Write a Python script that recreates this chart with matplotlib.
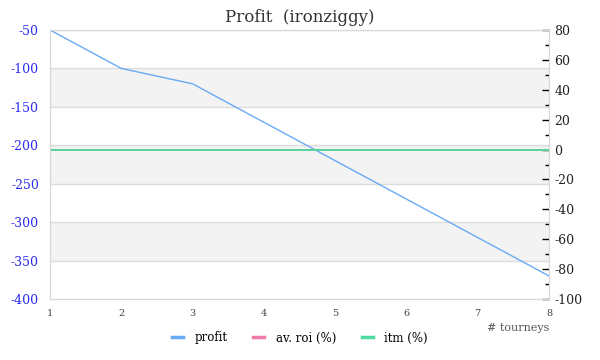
import matplotlib.pyplot as plt
from matplotlib.ticker import MultipleLocator

tourneys = [1, 2, 3, 4, 5, 6, 7, 8]
profit = [-50, -100, -120, -170, -220, -270, -320, -370]
av_roi = [0, 0, 0, 0, 0, 0, 0, 0]
itm = [0, 0, 0, 0, 0, 0, 0, 0]

plt.rcParams['font.family'] = ['DejaVu Serif']
plt.rcParams['axes.unicode_minus'] = False

fig = plt.figure(figsize=(6, 3.6), dpi=100)
ax = fig.add_axes([50 / 600, 1 - 299 / 360, 499 / 600, 269 / 360])
ax2 = ax.twinx()

# alternating bands + grid on the left axis
ax.set_ylim(-400, -50)
ax.set_xlim(1, 8)
for lo in [-150, -250, -350]:
    ax.axhspan(lo, lo + 50, color='#f3f3f3', zorder=0, lw=0)
for y in range(-350, -49, 50):
    ax.axhline(y, color='#dddddd', lw=1, zorder=1)

ax.plot(tourneys, profit, color='#6aaaf5', lw=1, zorder=3, label='profit')

ax2.set_ylim(-100, 80)
ax2.plot(tourneys, av_roi, color='#f07aa8', lw=1.3, label='av. roi (%)')
ax2.plot(tourneys, itm, color='#4cdb9a', lw=1.3, label='itm (%)')

for a in (ax, ax2):
    for s in a.spines.values():
        s.set_color('#d8d8d8')

ax.yaxis.set_major_locator(MultipleLocator(50))
ax.tick_params(axis='y', length=0, labelcolor='#2a2af0', labelsize=9, pad=8)
ax.tick_params(axis='x', length=0, labelsize=7, labelcolor='#444444', pad=7)

ax2.yaxis.set_major_locator(MultipleLocator(20))
ax2.yaxis.set_minor_locator(MultipleLocator(10))
ax2.tick_params(axis='y', which='major', direction='in', length=5, width=1,
                labelsize=9, labelcolor='#222222', pad=4)
ax2.tick_params(axis='y', which='minor', direction='in', length=3, width=1)

ax.set_title('Profit  (ironziggy)', fontsize=12, color='#333333', pad=6)
fig.text(549 / 600, 1 - 328 / 360, '# tourneys', ha='right', va='center',
         fontsize=8, color='#555555')

h1, l1 = ax.get_legend_handles_labels()
h2, l2 = ax2.get_legend_handles_labels()
fig.legend(h1 + h2, l1 + l2, loc='center', bbox_to_anchor=(300 / 600, 1 - 338 / 360),
           ncol=3, frameon=False, fontsize=8.5, handlelength=0.9, columnspacing=2.2,
           handletextpad=1.0)
for line in fig.legends[0].get_lines():
    line.set_linewidth(2.5)

plt.savefig('out.png')
